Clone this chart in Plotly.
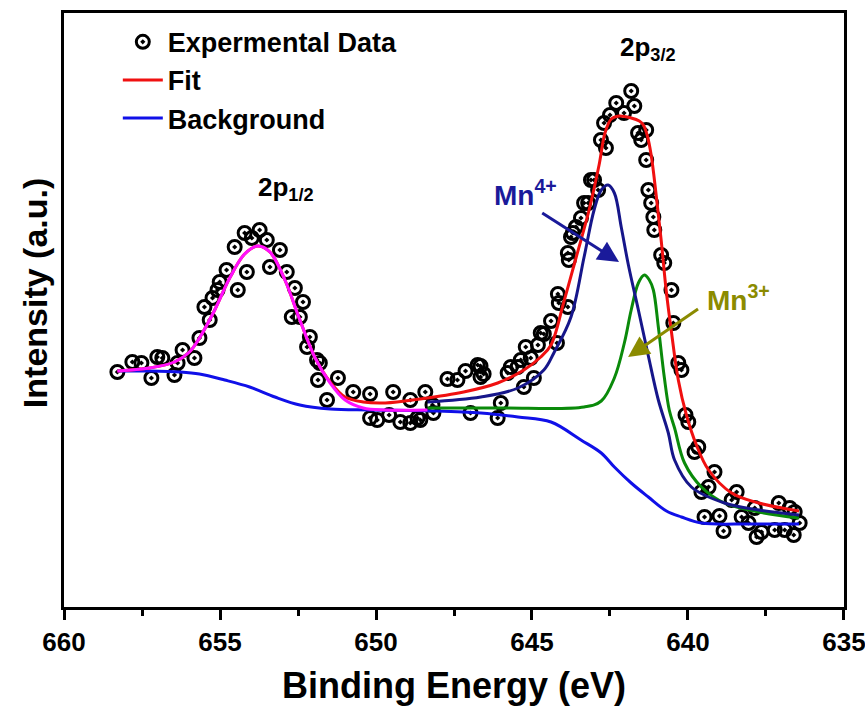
import plotly.graph_objects as go

# ---------------- data ----------------
exp_energy = [658.29, 657.81, 657.52, 657.20, 657.01, 656.85, 656.46, 656.36, 656.20, 655.82,
              655.66, 655.50, 655.33, 655.24, 655.08, 655.01, 654.79, 654.53, 654.43, 654.21,
              654.14, 653.98, 653.73, 653.50, 653.40, 653.08, 652.86, 652.70, 652.60, 652.44,
              652.34, 652.21, 652.12, 651.89, 651.86, 651.80, 651.57, 651.22, 650.73, 650.19,
              650.19, 649.96, 649.58, 649.45, 649.22, 648.90, 648.90, 648.67, 648.58, 648.42,
              648.19, 648.16, 647.71, 647.39, 647.13, 646.97, 646.74, 646.65, 646.65, 646.55,
              646.10, 646.00, 645.78, 645.68, 645.46, 645.36, 645.26, 645.20, 645.04, 644.94,
              644.81, 644.72, 644.62, 644.39, 644.20, 644.17, 644.14, 643.85, 643.85, 643.82,
              643.75, 643.69, 643.59, 643.43, 643.33, 643.20, 643.11, 643.01, 642.88, 642.79,
              642.69, 642.63, 642.50, 642.30, 642.05, 641.82, 641.72, 641.60, 641.50, 641.34,
              641.34, 641.27, 641.18, 641.11, 641.08, 640.86, 640.76, 640.53, 640.47, 640.31,
              640.21, 640.08, 639.99, 639.79, 639.67, 639.57, 639.47, 639.34, 639.15, 638.99,
              638.86, 638.60, 638.44, 638.28, 638.06, 637.86, 637.80, 637.64, 637.22, 637.09,
              636.90, 636.74, 636.61, 636.58, 636.42]
exp_intensity = [235, 245, 244, 229, 250, 249, 232, 244, 257, 249,
                 269, 300, 287, 309, 317, 325, 337, 360, 317, 374,
                 335, 369, 377, 367, 340, 357, 335, 290, 319, 290,
                 305, 260, 270, 247, 227, 244, 207, 229, 215, 213,
                 189, 187, 192, 215, 185, 207, 184, 189, 187, 215,
                 202, 194, 228, 227, 236, 194, 242, 241, 230, 233,
                 189, 204, 234, 240, 240, 247, 220, 260, 249, 229,
                 262, 274, 273, 286, 264, 313, 304, 354, 300, 347,
                 370, 374, 380, 389, 404, 404, 427, 427, 417, 467,
                 484, 459, 492, 504, 494, 516, 501, 474, 467, 477,
                 447, 417, 404, 390, 377, 352, 344, 317, 284, 244,
                 237, 192, 185, 155, 160, 115, 90, 120, 135, 91,
                 76, 107, 115, 90, 84, 99, 70, 75, 77, 104,
                 77, 99, 72, 95, 84]

fit_energy = [658.29, 657.26, 656.46, 655.98, 655.66, 655.17, 654.69, 654.21, 653.79, 653.40,
              652.92, 652.44, 651.95, 651.47, 650.99, 650.41, 649.70, 648.58, 647.19, 646.10,
              645.26, 644.72, 644.39, 643.98, 643.59, 643.17, 642.85, 642.66, 642.46, 642.21,
              641.82, 641.56, 641.43, 641.31, 641.18, 641.02, 640.86, 640.70, 640.53, 640.31,
              640.05, 639.73, 639.34, 638.60, 637.73, 636.44]
fit_intensity = [236, 239, 245, 255, 269, 297, 329, 353, 361, 355,
                 327, 287, 249, 225, 210, 205, 204, 208, 215, 224,
                 237, 250, 262, 305, 349, 397, 442, 474, 488, 491,
                 489, 486, 482, 472, 452, 412, 367, 317, 275, 227,
                 192, 162, 137, 114, 104, 96]

p12_energy = [658.29, 657.26, 656.46, 655.98, 655.66, 655.17, 654.69, 654.21, 653.79, 653.40,
              652.92, 652.44, 651.95, 651.47, 650.99, 650.41, 649.70, 648.35]
p12_intensity = [236, 239, 245, 255, 269, 297, 329, 353, 361, 355,
                 327, 287, 249, 224, 207, 199, 197, 197]

bg_energy = [658.29, 657.26, 656.27, 655.66, 654.85, 654.05, 653.24, 652.44, 651.47, 650.19,
             648.16, 646.64, 645.45, 644.39, 643.43, 642.78, 642.36, 641.82, 641.27, 640.69,
             640.21, 639.57, 638.05, 636.44]
bg_intensity = [236, 236, 235, 233, 227, 220, 210, 202, 198, 197,
                196, 194, 190, 185, 167, 154, 140, 124, 110, 96,
                90, 84, 83, 83]

mn3_energy = [648.35, 646.00, 643.33, 642.78, 642.36, 642.04, 641.82, 641.59, 641.40, 641.24,
              641.11, 640.95, 640.76, 640.60, 640.43, 640.11, 639.57, 638.83, 637.73, 636.44]
mn3_intensity = [199, 199, 200, 206, 229, 264, 297, 324, 332, 327,
                 317, 280, 230, 197, 179, 144, 120, 104, 95, 89]

mn4_energy = [648.35, 646.64, 645.45, 644.62, 644.30, 643.75, 643.33, 643.01, 642.78, 642.56,
              642.36, 642.14, 641.91, 641.59, 641.27, 640.95, 640.63, 640.43, 639.89, 638.83,
              637.73, 636.44]
mn4_intensity = [205, 210, 219, 237, 254, 290, 350, 397, 417, 422,
                 414, 380, 342, 297, 251, 207, 174, 147, 120, 104,
                 97, 92]

x_ticks = [660, 655, 650, 645, 640, 635]

# ---------------- figure ----------------
FONT = "Liberation Sans, Arial, sans-serif"
fig = go.Figure()

fig.add_trace(go.Scatter(x=exp_energy, y=exp_intensity, mode="markers", name="Expermental Data",
                         marker=dict(symbol="circle-open-dot", size=13, color="black",
                                     line=dict(width=3, color="black")),
                         legendrank=1))
fig.add_trace(go.Scatter(x=bg_energy, y=bg_intensity, mode="lines", name="Background",
                         line=dict(color="#1010e8", width=3, shape="spline"), legendrank=3))
fig.add_trace(go.Scatter(x=mn3_energy, y=mn3_intensity, mode="lines", name="Mn3+",
                         line=dict(color="#0a8a0a", width=3, shape="spline"), showlegend=False))
fig.add_trace(go.Scatter(x=mn4_energy, y=mn4_intensity, mode="lines", name="Mn4+",
                         line=dict(color="#16168a", width=3, shape="spline"), showlegend=False))
fig.add_trace(go.Scatter(x=fit_energy, y=fit_intensity, mode="lines", name="Fit",
                         line=dict(color="#f01010", width=3, shape="spline"), legendrank=2))
fig.add_trace(go.Scatter(x=p12_energy, y=p12_intensity, mode="lines", name="2p1/2",
                         line=dict(color="#ff10ff", width=3, shape="spline"), showlegend=False))

# labels
fig.add_annotation(x=652.89, y=419, text="<b>2p<sub>1/2</sub></b>", showarrow=False,
                   font=dict(family=FONT, size=26, color="black"))
fig.add_annotation(x=641.28, y=559, text="<b>2p<sub>3/2</sub></b>", showarrow=False,
                   font=dict(family=FONT, size=26, color="black"))
fig.add_annotation(x=645.20, y=414, text="<b>Mn<sup>4+</sup></b>", showarrow=False,
                   font=dict(family=FONT, size=28, color="#1a1a9a"))
fig.add_annotation(x=638.37, y=309, text="<b>Mn<sup>3+</sup></b>", showarrow=False,
                   font=dict(family=FONT, size=28, color="#8b8b00"))
# arrows
fig.add_annotation(x=642.21, y=345, ax=644.72, ay=395, xref="x", yref="y", axref="x", ayref="y",
                   text="", showarrow=True, arrowhead=2, arrowsize=1.4, arrowwidth=3,
                   arrowcolor="#1a1a9a")
fig.add_annotation(x=641.92, y=250, ax=639.63, ay=299, xref="x", yref="y", axref="x", ayref="y",
                   text="", showarrow=True, arrowhead=2, arrowsize=1.4, arrowwidth=3,
                   arrowcolor="#8b8b00")
# y-axis title (placed slightly above centre, as in the reference)
fig.add_annotation(xref="paper", yref="paper", x=-0.037, y=0.5286, xanchor="center", yanchor="middle",
                   text="<b>Intensity (a.u.)</b>", textangle=-90, showarrow=False,
                   font=dict(family=FONT, size=34, color="black"))

fig.update_layout(
    width=865, height=706,
    margin=dict(l=64, r=21, t=13, b=99),
    paper_bgcolor="white", plot_bgcolor="white",
    font=dict(family=FONT, color="black"),
    showlegend=True,
    legend=dict(x=0.069, y=0.992, xanchor="left", yanchor="top",
                bgcolor="rgba(0,0,0,0)", font=dict(family=FONT, size=27, weight="bold"),
                itemwidth=40, tracegroupgap=0),
    xaxis=dict(range=[660.001, 634.999], showgrid=False, zeroline=False, automargin=False,
               showline=True, linecolor="black", linewidth=3, mirror=True,
               ticks="outside", ticklen=10, tickwidth=2.5, tickcolor="black",
               tickvals=x_ticks, ticktext=[str(v) for v in x_ticks],
               ticklabeloverflow="allow",
               tickfont=dict(family=FONT, size=26, weight="bold"),
               minor=dict(dtick=2.5, tick0=660, ticks="outside", ticklen=6, tickwidth=2.5, tickcolor="black"),
               title=dict(text="<b>Binding Energy (eV)</b>", font=dict(family=FONT, size=36), standoff=19)),
    yaxis=dict(range=[0, 594], showgrid=False, zeroline=False, automargin=False,
               showline=True, linecolor="black", linewidth=3, mirror=True,
               showticklabels=False, ticks=""),
)

fig.write_html("out.html")
